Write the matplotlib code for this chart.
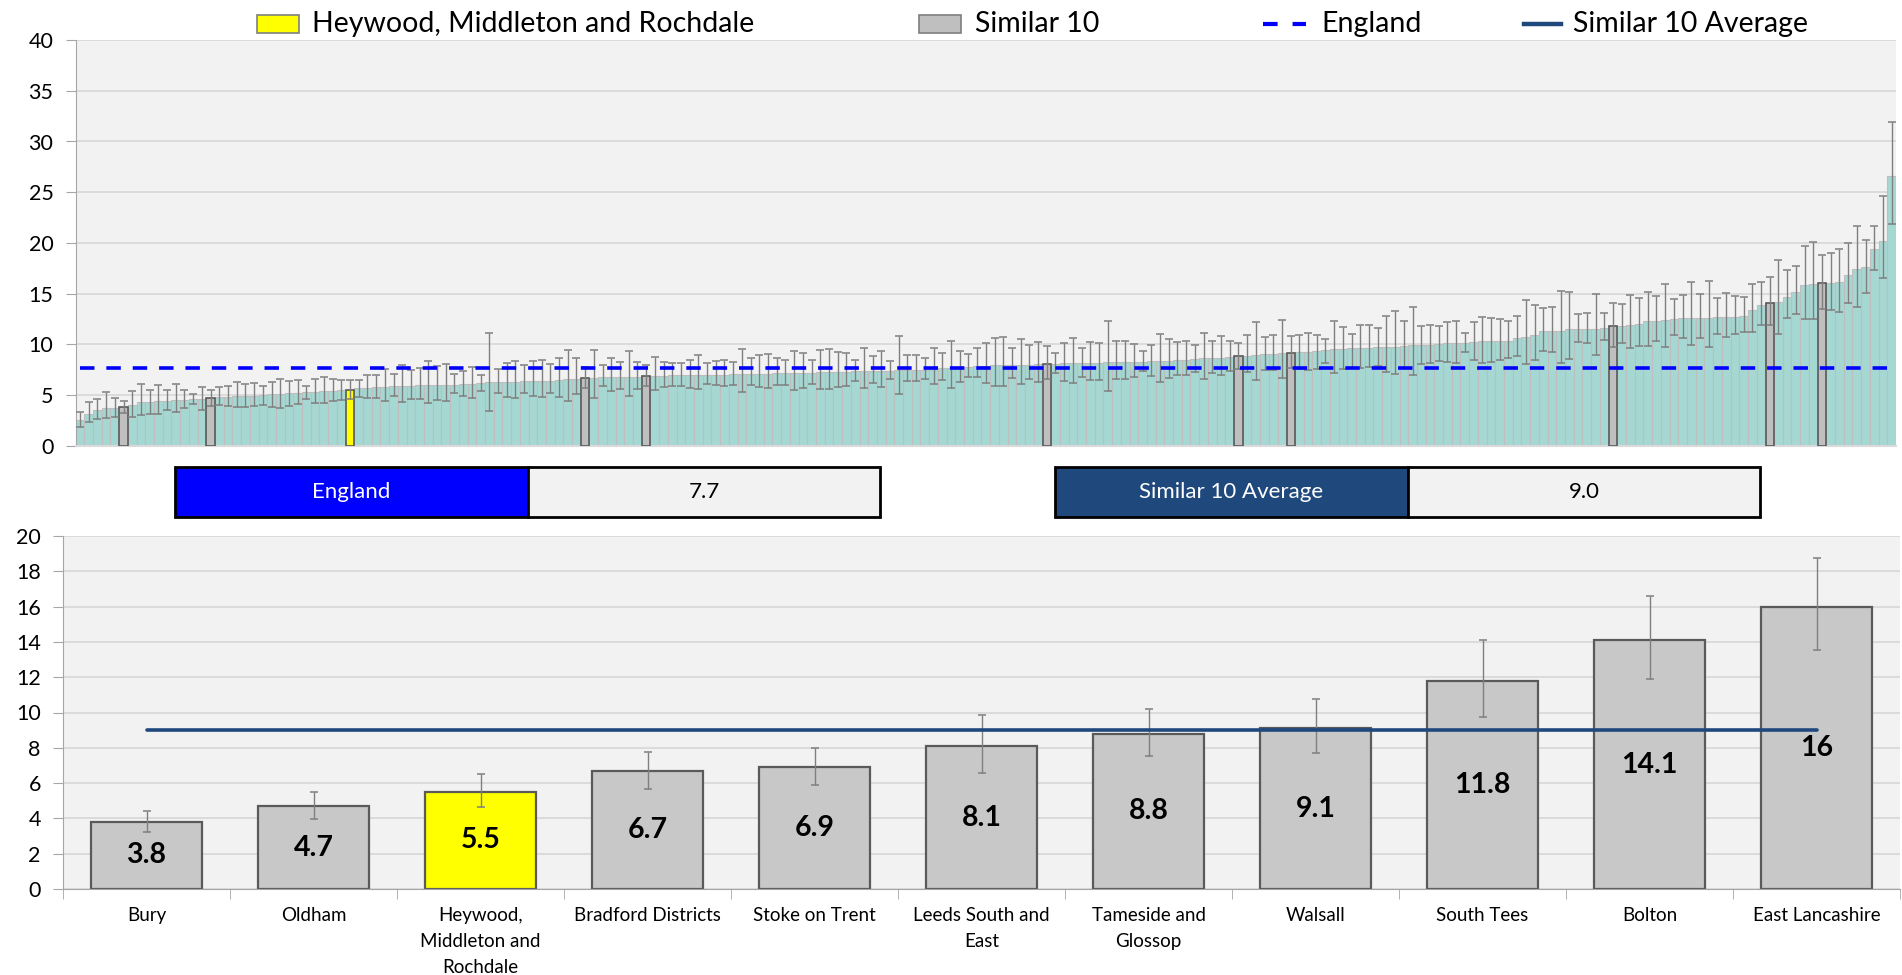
import matplotlib
matplotlib.use("Agg")
import matplotlib.pyplot as plt
from matplotlib.patches import Rectangle
from matplotlib.lines import Line2D

plt.rcParams['font.family'] = ['Lato', 'DejaVu Sans']

# ---------------- data: all areas (sorted) ----------------
all_values = [2.5, 3.1, 3.5, 3.7, 3.75, 3.8, 4.05, 4.3, 4.35, 4.4,
              4.4, 4.5, 4.5, 4.6, 4.65, 4.7, 4.8, 4.85, 4.9, 4.9,
              4.95, 5.0, 5.05, 5.1, 5.15, 5.2, 5.25, 5.3, 5.35, 5.4,
              5.45, 5.5, 5.65, 5.7, 5.75, 5.8, 5.85, 5.9, 5.9, 5.95,
              5.95, 6.0, 6.0, 6.0, 6.05, 6.05, 6.2, 6.3, 6.3, 6.3,
              6.3, 6.35, 6.4, 6.4, 6.4, 6.45, 6.55, 6.6, 6.7, 6.7,
              6.75, 6.8, 6.8, 6.8, 6.8, 6.9, 6.9, 6.9, 6.95, 6.95,
              6.95, 6.95, 7.0, 7.0, 7.0, 7.05, 7.05, 7.05, 7.1, 7.1,
              7.15, 7.15, 7.15, 7.2, 7.2, 7.25, 7.25, 7.3, 7.3, 7.35,
              7.35, 7.35, 7.4, 7.4, 7.45, 7.45, 7.5, 7.5, 7.6, 7.65,
              7.65, 7.7, 7.75, 7.85, 7.9, 7.95, 7.95, 7.95, 8.0, 8.0,
              8.05, 8.1, 8.1, 8.15, 8.15, 8.2, 8.2, 8.2, 8.25, 8.25,
              8.3, 8.3, 8.3, 8.35, 8.35, 8.4, 8.45, 8.5, 8.55, 8.6,
              8.6, 8.65, 8.7, 8.8, 8.8, 8.9, 9.0, 9.05, 9.1, 9.1,
              9.2, 9.25, 9.3, 9.4, 9.5, 9.55, 9.6, 9.65, 9.65, 9.7,
              9.75, 9.75, 9.85, 9.9, 9.9, 9.9, 10.0, 10.1, 10.15, 10.15,
              10.2, 10.3, 10.3, 10.35, 10.35, 10.6, 10.75, 10.9, 11.3, 11.3,
              11.35, 11.5, 11.5, 11.5, 11.55, 11.6, 11.8, 11.8, 11.9, 12.05,
              12.25, 12.3, 12.4, 12.5, 12.55, 12.55, 12.55, 12.6, 12.7, 12.7,
              12.7, 12.8, 13.4, 13.85, 14.1, 14.2, 14.7, 15.2, 15.8, 15.95,
              16.0, 16.0, 16.1, 16.8, 17.4, 17.6, 19.4, 20.2, 26.6]

all_lower = [1.8, 2.3, 2.6, 2.7, 2.8, 3.25, 2.8, 3.0, 3.1, 3.15,
             3.5, 3.3, 3.7, 4.15, 3.5, 3.95, 4.0, 3.9, 3.8, 3.85,
             3.9, 4.0, 3.85, 3.7, 3.9, 4.1, 4.6, 4.2, 4.2, 4.4,
             4.5, 4.65, 4.85, 4.7, 4.7, 4.45, 4.9, 4.35, 4.65, 4.6,
             4.2, 4.5, 4.4, 5.15, 4.95, 4.7, 5.4, 3.45, 5.2, 4.8,
             4.75, 5.15, 4.9, 4.85, 5.15, 4.85, 4.45, 5.1, 5.67, 4.75,
             5.85, 5.35, 5.55, 4.95, 5.55, 5.88, 5.45, 5.75, 5.9, 5.9,
             5.7, 5.55, 6.1, 6.0, 5.9, 6.0, 5.25, 5.95, 5.75, 5.65,
             5.95, 6.0, 5.5, 5.7, 6.1, 5.55, 5.55, 5.75, 5.9, 6.4,
             5.65, 6.15, 5.8, 6.6, 5.1, 6.35, 6.4, 6.55, 6.05, 6.45,
             5.7, 6.3, 6.75, 6.8, 6.15, 5.9, 5.9, 6.7, 6.1, 6.55,
             6.3, 6.56, 7.2, 6.4, 6.15, 6.8, 6.5, 6.5, 5.35, 6.6,
             6.6, 6.8, 7.4, 6.9, 6.3, 6.65, 7.0, 7.0, 7.25, 6.6,
             7.15, 6.95, 7.35, 7.52, 7.25, 6.5, 7.45, 7.5, 6.65, 7.69,
             7.55, 7.45, 7.6, 8.2, 7.2, 7.6, 7.65, 7.65, 7.8, 7.85,
             7.3, 7.05, 7.7, 7.0, 8.1, 8.2, 8.4, 8.3, 8.2, 9.2,
             8.45, 8.2, 8.3, 8.5, 8.6, 8.8, 8.05, 8.5, 9.3, 9.2,
             8.2, 8.55, 10.2, 10.15, 8.95, 10.4, 9.75, 10.1, 9.6, 9.85,
             9.85, 10.35, 9.7, 10.9, 10.65, 9.9, 10.6, 9.75, 11.0, 10.75,
             11.0, 11.2, 11.2, 11.9, 11.92, 11.0, 12.55, 13.0, 12.5, 12.5,
             13.53, 13.4, 13.2, 14.1, 13.7, 15.1, 17.3, 16.5, 21.9]

all_upper = [3.3, 4.3, 4.6, 5.3, 4.7, 4.4, 5.4, 6.05, 5.45, 6.0,
             5.45, 6.05, 5.45, 5.05, 5.75, 5.5, 5.75, 5.9, 6.25, 6.05,
             6.15, 5.9, 6.3, 6.6, 6.4, 6.5, 5.85, 6.6, 6.8, 6.6,
             6.5, 6.5, 6.5, 7.0, 7.0, 7.55, 7.1, 7.95, 7.45, 7.65,
             8.35, 7.9, 8.1, 7.1, 7.4, 7.8, 6.95, 11.1, 7.55, 8.2,
             8.4, 7.95, 8.4, 8.45, 8.1, 8.6, 9.4, 8.6, 7.78, 9.4,
             7.95, 8.6, 8.25, 9.3, 8.3, 8.0, 8.7, 8.3, 8.15, 8.2,
             8.5, 8.9, 8.15, 8.4, 8.45, 8.3, 9.5, 8.6, 8.9, 9.0,
             8.6, 8.5, 9.35, 9.1, 8.5, 9.45, 9.5, 9.25, 9.1, 8.45,
             9.6, 8.85, 9.3, 8.4, 10.8, 8.9, 8.9, 8.6, 9.65, 9.1,
             10.3, 9.35, 9.0, 9.6, 10.1, 10.6, 10.7, 9.6, 10.55, 9.9,
             10.25, 9.85, 9.1, 10.15, 10.65, 9.6, 10.25, 10.15, 12.3, 10.3,
             10.3, 10.0, 9.3, 9.95, 11.0, 10.55, 10.2, 10.35, 9.9, 11.1,
             10.3, 10.8, 10.35, 10.17, 10.95, 12.2, 10.75, 10.9, 12.4, 10.77,
             10.9, 11.15, 10.95, 10.55, 12.25, 11.75, 11.0, 11.95, 11.9, 11.65,
             12.75, 13.25, 12.3, 13.7, 11.85, 11.9, 11.85, 12.15, 12.3, 11.15,
             12.15, 12.7, 12.55, 12.45, 12.3, 12.8, 14.4, 13.9, 13.6, 13.7,
             15.3, 15.2, 12.95, 13.1, 15.0, 13.05, 14.08, 14.0, 14.85, 14.6,
             15.2, 14.75, 15.9, 14.45, 14.9, 16.1, 15.0, 16.25, 14.6, 15.1,
             14.8, 14.7, 15.9, 16.1, 16.6, 18.3, 17.3, 17.75, 19.7, 20.1,
             18.78, 19.0, 19.4, 20.0, 21.7, 20.3, 21.7, 24.6, 31.9]

similar_positions = [5, 15, 31, 58, 65, 111, 133, 139, 176, 194, 200]
local_position = 31
england_value = 7.7

# ---------------- data: similar 10 ----------------
similar_names = ["Bury", "Oldham", "Heywood,\nMiddleton and\nRochdale",
                 "Bradford Districts", "Stoke on Trent", "Leeds South and\nEast",
                 "Tameside and\nGlossop", "Walsall", "South Tees", "Bolton",
                 "East Lancashire"]
similar_values = [3.8, 4.7, 5.5, 6.7, 6.9, 8.1, 8.8, 9.1, 11.8, 14.1, 16.0]
similar_labels = ["3.8", "4.7", "5.5", "6.7", "6.9", "8.1", "8.8", "9.1", "11.8", "14.1", "16"]
similar_lower = [3.25, 3.95, 4.65, 5.67, 5.88, 6.56, 7.52, 7.69, 9.75, 11.92, 13.53]
similar_upper = [4.42, 5.52, 6.5, 7.78, 8.01, 9.85, 10.17, 10.77, 14.08, 16.6, 18.78]
similar_average = 9.0
local_name = "Heywood, Middleton and Rochdale"

# ---------------- styling ----------------
W, H = 1902, 975
BG = '#F2F2F2'
GRID = '#D9D9D9'
TEAL = '#A6D8D3'
GREY_BAR = '#BFBFBF'
YELLOW = '#FFFF00'
ENG_BLUE = '#0000FF'
AVG_BLUE = '#1F497D'
ERR = '#7F7F7F'

fig = plt.figure(figsize=(W / 100, H / 100), dpi=100)
fig.patch.set_facecolor('white')


def fx(px):
    return px / W


def fy(py):
    return 1 - py / H


# ---------------- top chart ----------------
axt = fig.add_axes([fx(75.6), fy(445.7), fx(1896 - 75.6), (445.7 - 40.1) / H])
axt.set_facecolor(BG)
n = len(all_values)
xs = list(range(n))
axt.bar(xs, all_values, width=1.0, color=TEAL, edgecolor='#BEBEBE', linewidth=0.8, zorder=2)
for p in similar_positions:
    c = YELLOW if p == local_position else GREY_BAR
    axt.bar(p, all_values[p], width=0.95, color=c, edgecolor='#595959', linewidth=1.2, zorder=3)
yerr = [[v - lo for v, lo in zip(all_values, all_lower)],
        [up - v for v, up in zip(all_values, all_upper)]]
axt.errorbar(xs, all_values, yerr=yerr, fmt='none', ecolor=ERR, elinewidth=1.0,
             capsize=2.6, capthick=1.1, zorder=4)
axt.plot([0, n - 1], [england_value, england_value], color=ENG_BLUE, lw=2.6,
         linestyle=(0, (4, 3.3)), zorder=5)
axt.set_xlim(-0.5, n - 0.5)
axt.set_ylim(0, 40)
axt.set_yticks(range(0, 41, 5))
axt.set_xticks([])
axt.yaxis.grid(True, color=GRID, lw=1.3)
axt.set_axisbelow(True)
for s in ['top', 'right']:
    axt.spines[s].set_visible(False)
axt.spines['left'].set_color('#A6A6A6')
axt.spines['bottom'].set_color('#D9D9D9')
axt.spines['bottom'].set_linewidth(1.5)
axt.tick_params(axis='y', length=7, color='#A6A6A6', labelsize=15.5, pad=9)

# ---------------- legend (top) ----------------
ly = 24
fs_leg = 20.5
fig.add_artist(Rectangle((fx(257), fy(ly + 8.5)), fx(42), 17 / H, transform=fig.transFigure,
                         facecolor=YELLOW, edgecolor='#7F7F7F', lw=1.2))
fig.text(fx(312), fy(ly), local_name, fontsize=fs_leg, va='center', ha='left')
fig.add_artist(Rectangle((fx(919), fy(ly + 8.5)), fx(42), 17 / H, transform=fig.transFigure,
                         facecolor=GREY_BAR, edgecolor='#7F7F7F', lw=1.2))
fig.text(fx(975), fy(ly), "Similar 10", fontsize=fs_leg, va='center', ha='left')
fig.add_artist(Line2D([fx(1263), fx(1306)], [fy(ly), fy(ly)], transform=fig.transFigure,
                      color=ENG_BLUE, lw=3, linestyle=(0, (3.5, 3.6))))
fig.text(fx(1321), fy(ly), "England", fontsize=fs_leg, va='center', ha='left')
fig.add_artist(Line2D([fx(1524), fx(1561)], [fy(ly), fy(ly)], transform=fig.transFigure,
                      color=AVG_BLUE, lw=3.2))
fig.text(fx(1573), fy(ly), "Similar 10 Average", fontsize=fs_leg, va='center', ha='left')

# ---------------- summary boxes ----------------
by0, by1 = 467, 517


def box(x0, x1, x2, label, value, color):
    fig.add_artist(Rectangle((fx(x0), fy(by1)), fx(x1 - x0), (by1 - by0) / H,
                             transform=fig.transFigure, facecolor=color, edgecolor='black', lw=2))
    fig.add_artist(Rectangle((fx(x1), fy(by1)), fx(x2 - x1), (by1 - by0) / H,
                             transform=fig.transFigure, facecolor=BG, edgecolor='black', lw=2))
    fig.text(fx((x0 + x1) / 2), fy((by0 + by1) / 2), label, color='white', fontsize=16,
             ha='center', va='center')
    fig.text(fx((x1 + x2) / 2), fy((by0 + by1) / 2), value, color='black', fontsize=16,
             ha='center', va='center')


box(175, 528, 880, "England", f"{england_value:.1f}", ENG_BLUE)
box(1055, 1408, 1760, "Similar 10 Average", f"{similar_average:.1f}", AVG_BLUE)

# ---------------- bottom chart ----------------
axb = fig.add_axes([fx(63), fy(889), fx(1900 - 63), (889 - 536) / H])
axb.set_facecolor(BG)
m = len(similar_values)
bx = list(range(m))
colors = [YELLOW if i == similar_positions.index(local_position) else '#C8C8C8' for i in bx]
axb.bar(bx, similar_values, width=0.665, color=colors, edgecolor='#5A5A5A', linewidth=1.6, zorder=2)
berr = [[v - lo for v, lo in zip(similar_values, similar_lower)],
        [up - v for v, up in zip(similar_values, similar_upper)]]
axb.errorbar(bx, similar_values, yerr=berr, fmt='none', ecolor=ERR, elinewidth=1.0,
             capsize=2.6, capthick=1.1, zorder=4)
axb.plot([0, m - 1], [similar_average, similar_average], color=AVG_BLUE, lw=2.6, zorder=5,
         solid_capstyle='round')
for i, (v, lab) in enumerate(zip(similar_values, similar_labels)):
    axb.text(i, v / 2, lab, ha='center', va='center', fontsize=20.5, fontweight='bold', zorder=6)
axb.set_xlim(-0.5, m - 0.5)
axb.set_ylim(0, 20)
axb.set_yticks(range(0, 21, 2))
axb.set_xticks(bx)
axb.set_xticklabels(similar_names, fontsize=13.5, linespacing=1.65, va='top')
axb.set_xticks([i - 0.5 for i in range(m + 1)], minor=True)
axb.tick_params(axis='x', which='major', length=0, pad=13)
axb.tick_params(axis='x', which='minor', length=7, color='#A6A6A6')
axb.tick_params(axis='y', length=7, color='#A6A6A6', labelsize=15.5, pad=9)
axb.yaxis.grid(True, color=GRID, lw=1.3)
axb.set_axisbelow(True)
for s in ['top', 'right']:
    axb.spines[s].set_visible(False)
axb.spines['left'].set_color('#A6A6A6')
axb.spines['bottom'].set_color('#A6A6A6')

fig.savefig('out.png', dpi=100)
